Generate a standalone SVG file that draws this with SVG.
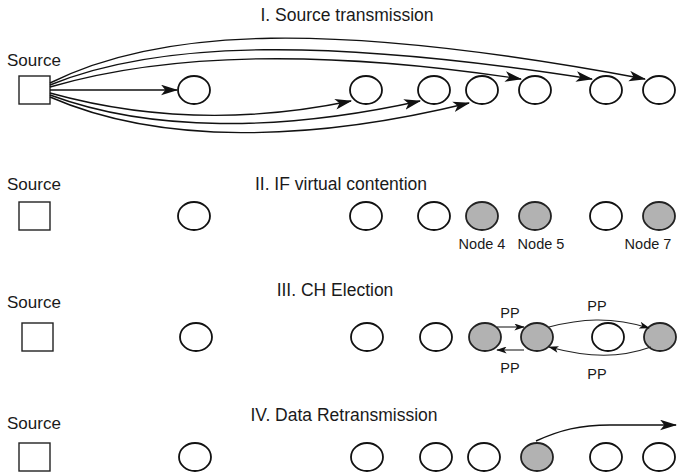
<svg xmlns="http://www.w3.org/2000/svg" width="682" height="474" viewBox="0 0 682 474">
<defs>
<marker id="ah" viewBox="0 0 16 10" refX="15" refY="5" markerWidth="17" markerHeight="11" orient="auto" markerUnits="userSpaceOnUse"><path d="M0,0 L16,5 L0,10 L4,5 Z" fill="#111"/></marker>
<marker id="ahs" viewBox="0 0 12 8" refX="11" refY="4" markerWidth="11" markerHeight="7" orient="auto" markerUnits="userSpaceOnUse"><path d="M0,0 L12,4 L0,8 L3,4 Z" fill="#111"/></marker>
<style>
text{font-family:"Liberation Sans",Arial,sans-serif;fill:#1a1a1a}
.t{font-size:17.5px;text-anchor:middle}
.s{font-size:17px}
.n{font-size:14.5px;text-anchor:middle}
.sq{fill:#fff;stroke:#222;stroke-width:1.4}
.c{fill:#fff;stroke:#111;stroke-width:1.8}
.f{fill:#b2b2b2;stroke:#222;stroke-width:1.8}
.e{fill:none;stroke:#111;stroke-width:1.4}
.p{fill:none;stroke:#222;stroke-width:1.1}
</style>
</defs>

<g id="section1">
<text class="t" x="347" y="21">I. Source transmission</text>
<g id="s1-source"><text class="s" x="7" y="66">Source</text><rect class="sq" x="19" y="76" width="31" height="28"/></g>
<g id="s1-n1"><ellipse class="c" cx="194" cy="90" rx="16" ry="14"/></g>
<g id="s1-n2"><ellipse class="c" cx="366" cy="90" rx="16" ry="14"/></g>
<g id="s1-n3"><ellipse class="c" cx="434" cy="90" rx="16" ry="14"/></g>
<g id="s1-n4"><ellipse class="c" cx="482" cy="90" rx="16" ry="14"/></g>
<g id="s1-n5"><ellipse class="c" cx="535" cy="90" rx="16" ry="14"/></g>
<g id="s1-n6"><ellipse class="c" cx="606" cy="90" rx="16" ry="14"/></g>
<g id="s1-n7"><ellipse class="c" cx="659" cy="90" rx="16" ry="14"/></g>
</g>

<g id="section2">
<text class="t" x="341" y="190">II. IF virtual contention</text>
<g id="s2-source"><text class="s" x="7" y="190">Source</text><rect class="sq" x="19" y="202" width="31" height="28"/></g>
<g id="s2-n1"><ellipse class="c" cx="194" cy="216" rx="16" ry="14"/></g>
<g id="s2-n2"><ellipse class="c" cx="366" cy="216" rx="16" ry="14"/></g>
<g id="s2-n3"><ellipse class="c" cx="434" cy="216" rx="16" ry="14"/></g>
<g id="s2-n4"><ellipse class="f" cx="482" cy="216" rx="16" ry="14"/><text class="n" x="482" y="249">Node 4</text></g>
<g id="s2-n5"><ellipse class="f" cx="535" cy="216" rx="16" ry="14"/><text class="n" x="541" y="249">Node 5</text></g>
<g id="s2-n6"><ellipse class="c" cx="606" cy="216" rx="16" ry="14"/></g>
<g id="s2-n7"><ellipse class="f" cx="659" cy="216" rx="16" ry="14"/><text class="n" x="648" y="249">Node 7</text></g>
</g>

<g id="section3">
<text class="t" x="335" y="296">III. CH Election</text>
<g id="s3-source"><text class="s" x="7" y="308">Source</text><rect class="sq" x="22" y="323" width="31" height="28"/></g>
<g id="s3-n1"><ellipse class="c" cx="196" cy="337" rx="16" ry="14"/></g>
<g id="s3-n2"><ellipse class="c" cx="367" cy="337" rx="16" ry="14"/></g>
<g id="s3-n3"><ellipse class="c" cx="436" cy="337" rx="16" ry="14"/></g>
<g id="s3-n4"><ellipse class="f" cx="485" cy="337" rx="16" ry="14"/></g>
<g id="s3-n5"><ellipse class="f" cx="537" cy="337" rx="16" ry="14"/></g>
<g id="s3-n6"><ellipse class="c" cx="608" cy="337" rx="16" ry="14"/></g>
<g id="s3-n7"><ellipse class="f" cx="660" cy="337" rx="16" ry="14"/></g>
<text class="n" x="510" y="318">PP</text>
<text class="n" x="510" y="373">PP</text>
<text class="n" x="597" y="311">PP</text>
<text class="n" x="597" y="379">PP</text>
</g>

<g id="section4">
<text class="t" x="344" y="421">IV. Data Retransmission</text>
<g id="s4-source"><text class="s" x="7" y="429">Source</text><rect class="sq" x="19" y="443" width="31" height="28"/></g>
<g id="s4-n1"><ellipse class="c" cx="195" cy="457" rx="16" ry="14"/></g>
<g id="s4-n2"><ellipse class="c" cx="367" cy="457" rx="16" ry="14"/></g>
<g id="s4-n3"><ellipse class="c" cx="436" cy="457" rx="16" ry="14"/></g>
<g id="s4-n4"><ellipse class="c" cx="484" cy="457" rx="16" ry="14"/></g>
<g id="s4-n5"><ellipse class="f" cx="537" cy="457" rx="16" ry="14"/></g>
<g id="s4-n6"><ellipse class="c" cx="606" cy="457" rx="16" ry="14"/></g>
<g id="s4-n7"><ellipse class="c" cx="659" cy="457" rx="16" ry="14"/></g>
</g>

<g id="connectors">
<path class="e" d="M50,90 L177,90" marker-end="url(#ah)"/>
<path class="e" d="M50,93 C140,118 240,124 351,101" marker-end="url(#ah)"/>
<path class="e" d="M50,95 C150,132 280,132 420,101" marker-end="url(#ah)"/>
<path class="e" d="M50,97 C160,145 310,142 469,103" marker-end="url(#ah)"/>
<path class="e" d="M50,87 C170,52 330,50 521,79" marker-end="url(#ah)"/>
<path class="e" d="M50,85 C160,40 330,38 592,79" marker-end="url(#ah)"/>
<path class="e" d="M50,83 C160,28 330,20 645,79" marker-end="url(#ah)"/>
<path class="p" d="M497,327 L524,327" marker-end="url(#ahs)"/>
<path class="p" d="M524,350 L497,350" marker-end="url(#ahs)"/>
<path class="p" d="M549,327 C580,319 610,316 649,328" marker-end="url(#ahs)"/>
<path class="p" d="M651,347 C620,358 590,358 549,347" marker-end="url(#ahs)"/>
<path class="e" d="M536,441 C560,430 580,425 610,425 L676,425" marker-end="url(#ah)"/>
</g>
</svg>
